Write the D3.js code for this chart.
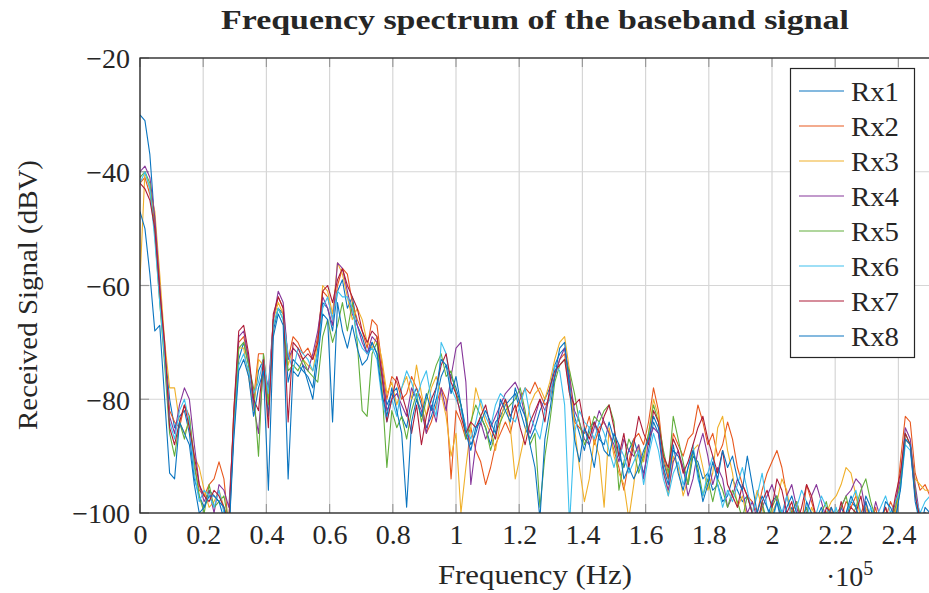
<!DOCTYPE html>
<html>
<head>
<meta charset="utf-8">
<script src="https://cdn.jsdelivr.net/npm/d3@7"></script>
<style>
  body { margin: 0; background: #fff; }
  text { font-family: "Liberation Serif", "Times New Roman", serif; fill: #262626; }
</style>
</head>
<body>
<div class="chart"></div>
<script>
// frequency bins (Hz)
var binWidth = 1562.5;

var seriesNames = ["Rx1", "Rx2", "Rx3", "Rx4", "Rx5", "Rx6", "Rx7", "Rx8"];
var seriesColors = ["#0a75c0", "#E8581E", "#F0B02A", "#86369A", "#62AE3C", "#3EC0EE", "#AE1C38", "#0a75c0"];

var xTicks = [0, 20000, 40000, 60000, 80000, 100000, 120000, 140000, 160000, 180000, 200000, 220000, 240000];
var yTicks = [-100, -80, -60, -40, -20];

// received level in dBV, one value per bin
var rx1 = [-30,-31,-37,-49,-62,-71,-80,-85,-83,-82,
  -86,-94,-97,-99,-96,-97,-98,-101,-104,-85,
  -73,-70,-74,-81,-75,-73,-83,-68,-64,-65,
  -77,-73,-74,-75,-76,-78,-71,-63,-64,-68,
  -61,-59,-64,-62,-67,-69,-72,-70,-72,-76,
  -81,-79,-78,-83,-85,-80,-78,-81,-85,-83,
  -80,-76,-74,-76,-78,-81,-85,-88,-86,-83,
  -85,-88,-84,-83,-81,-80,-79,-82,-85,-87,
  -85,-82,-80,-78,-74,-72,-71,-77,-83,-86,
  -89,-85,-84,-87,-88,-84,-87,-90,-92,-89,
  -87,-90,-93,-89,-84,-86,-91,-94,-89,-90,
  -92,-95,-90,-91,-94,-93,-96,-95,-98,-97,
  -94,-96,-98,-97,-100,-102,-99,-101,-98,-97,
  -100,-102,-99,-101,-103,-100,-102,-104,-101,-100,
  -102,-103,-99,-101,-98,-99,-102,-97,-99,-103,
  -101,-104,-100,-102,-95,-87,-88,-96,-103,-99,-100];

var rx2 = [-42,-41,-44,-49,-60,-73,-82,-84,-85,-81,
  -83,-92,-96,-97,-95,-94,-91,-94,-103,-82,
  -70,-69,-73,-80,-72,-72,-80,-66,-62,-64,
  -73,-69,-70,-72,-71,-73,-69,-61,-62,-66,
  -60,-57,-58,-63,-66,-68,-71,-66,-67,-74,
  -80,-76,-77,-80,-79,-76,-78,-80,-86,-84,
  -81,-78,-80,-94,-82,-84,-87,-85,-89,-91,
  -95,-92,-88,-86,-84,-86,-82,-80,-78,-79,
  -77,-79,-81,-80,-76,-73,-72,-79,-84,-85,
  -86,-83,-88,-85,-84,-86,-89,-92,-96,-91,
  -87,-86,-88,-84,-78,-82,-90,-94,-86,-88,
  -90,-87,-86,-81,-84,-88,-86,-90,-88,-84,
  -87,-92,-95,-97,-98,-100,-96,-93,-91,-89,
  -92,-97,-100,-98,-102,-95,-98,-101,-104,-100,
  -99,-103,-101,-98,-99,-97,-100,-98,-102,-99,
  -104,-101,-98,-100,-91,-83,-84,-93,-96,-95,-97];

var rx3 = [-59,-40,-43,-47,-58,-70,-78,-78,-84,-86,
  -84,-90,-92,-96,-99,-98,-96,-99,-101,-83,
  -71,-71,-76,-82,-73,-74,-80,-66,-63,-65,
  -74,-71,-72,-73,-74,-75,-70,-60,-61,-65,
  -56,-58,-62,-66,-64,-66,-70,-71,-69,-73,
  -79,-77,-81,-78,-76,-80,-74,-79,-83,-78,
  -76,-79,-83,-90,-86,-100,-92,-85,-78,-81,
  -84,-86,-89,-84,-80,-85,-94,-90,-86,-81,
  -79,-78,-80,-77,-73,-70,-69,-75,-85,-92,
  -98,-94,-87,-90,-99,-85,-90,-93,-95,-101,
  -95,-88,-91,-86,-80,-83,-92,-97,-90,-92,
  -97,-94,-89,-88,-92,-96,-93,-85,-83,-89,
  -93,-99,-97,-101,-100,-96,-99,-103,-100,-98,
  -94,-96,-101,-102,-100,-104,-99,-101,-102,-100,
  -98,-97,-95,-92,-93,-97,-101,-99,-102,-100,
  -102,-99,-103,-100,-95,-87,-88,-94,-95,-96,-96];

var rx4 = [-40,-39,-41,-48,-60,-72,-83,-86,-81,-78,
  -80,-88,-95,-98,-96,-100,-95,-96,-99,-84,
  -69,-68,-73,-81,-86,-74,-78,-66,-61,-63,
  -73,-71,-72,-74,-75,-72,-68,-62,-64,-67,
  -56,-57,-61,-65,-67,-70,-72,-69,-70,-75,
  -82,-80,-79,-81,-83,-78,-80,-82,-86,-81,
  -84,-78,-82,-76,-71,-70,-77,-95,-88,-84,
  -87,-85,-83,-81,-79,-78,-77,-79,-83,-86,
  -83,-80,-82,-79,-76,-73,-71,-76,-82,-84,
  -87,-88,-85,-82,-84,-86,-88,-91,-87,-89,
  -90,-88,-94,-87,-85,-86,-93,-96,-91,-89,
  -92,-97,-94,-89,-86,-90,-95,-92,-94,-99,
  -97,-94,-96,-100,-98,-101,-99,-97,-95,-98,
  -101,-97,-95,-99,-102,-100,-97,-95,-98,-101,
  -100,-103,-99,-97,-96,-94,-95,-100,-102,-98,
  -101,-99,-102,-98,-94,-85,-87,-95,-101,-100,-102];

var rx5 = [-41,-40,-42,-51,-63,-74,-86,-90,-84,-87,
  -83,-91,-97,-100,-95,-99,-98,-97,-102,-85,
  -71,-70,-74,-78,-90,-72,-81,-67,-64,-66,
  -75,-74,-75,-73,-75,-76,-77,-69,-66,-70,
  -67,-63,-68,-63,-70,-82,-83,-72,-70,-78,
  -92,-82,-85,-83,-87,-82,-79,-84,-80,-77,
  -74,-72,-76,-75,-79,-81,-87,-84,-81,-83,
  -85,-89,-86,-84,-82,-81,-80,-78,-82,-88,
  -86,-99,-90,-84,-77,-74,-73,-75,-79,-84,
  -88,-86,-83,-84,-82,-81,-84,-96,-91,-87,
  -89,-93,-90,-86,-81,-84,-89,-93,-83,-87,
  -91,-95,-89,-92,-97,-94,-98,-94,-96,-99,
  -96,-98,-101,-97,-100,-103,-98,-102,-99,-97,
  -101,-104,-100,-98,-101,-99,-103,-101,-100,-98,
  -102,-100,-99,-97,-101,-99,-96,-94,-98,-101,
  -103,-100,-101,-99,-95,-86,-88,-96,-103,-101,-102];

var rx6 = [-42,-40,-43,-52,-63,-73,-84,-87,-82,-80,
  -84,-93,-98,-96,-97,-99,-96,-100,-101,-86,
  -74,-72,-75,-79,-77,-73,-79,-67,-64,-66,
  -72,-75,-71,-72,-73,-75,-72,-64,-62,-66,
  -61,-62,-62,-64,-69,-71,-72,-71,-73,-80,
  -84,-80,-83,-78,-75,-77,-80,-77,-75,-80,
  -83,-70,-72,-78,-80,-82,-85,-87,-84,-80,
  -83,-85,-81,-79,-80,-83,-84,-81,-78,-83,
  -85,-87,-82,-80,-74,-75,-81,-102,-86,-82,
  -84,-85,-87,-84,-86,-89,-92,-88,-90,-93,
  -91,-89,-95,-90,-86,-89,-94,-97,-93,-91,
  -95,-92,-88,-94,-97,-93,-90,-95,-99,-96,
  -98,-95,-92,-96,-100,-97,-93,-99,-102,-98,
  -100,-97,-101,-99,-96,-98,-102,-100,-97,-99,
  -101,-99,-103,-100,-98,-96,-100,-102,-99,-101,
  -99,-97,-100,-98,-96,-88,-89,-97,-100,-98,-97];

var rx7 = [-42,-43,-45,-50,-61,-70,-85,-88,-84,-81,
  -85,-90,-95,-97,-98,-96,-97,-99,-102,-82,
  -68,-67,-72,-80,-82,-73,-85,-65,-62,-64,
  -84,-70,-71,-73,-72,-73,-70,-61,-60,-63,
  -59,-57,-60,-62,-64,-68,-70,-68,-69,-76,
  -84,-80,-76,-79,-82,-86,-81,-88,-83,-80,
  -78,-74,-72,-77,-79,-83,-86,-84,-85,-83,
  -81,-85,-87,-82,-80,-83,-81,-85,-88,-84,
  -82,-80,-84,-78,-75,-74,-73,-79,-81,-80,
  -85,-87,-84,-86,-83,-81,-85,-90,-86,-92,
  -88,-83,-86,-88,-82,-84,-90,-92,-87,-89,
  -93,-91,-88,-85,-83,-87,-90,-93,-89,-95,
  -97,-99,-95,-97,-100,-102,-98,-96,-99,-94,
  -96,-100,-98,-102,-99,-95,-97,-101,-103,-99,
  -100,-102,-98,-101,-99,-100,-97,-102,-100,-103,
  -101,-99,-102,-97,-93,-86,-88,-97,-101,-100,-103];

var rx8 = [-47,-50,-58,-68,-67,-80,-93,-94,-84,-86,
  -88,-95,-100,-99,-97,-97,-98,-99,-104,-87,
  -75,-73,-76,-83,-78,-75,-96,-69,-65,-67,
  -94,-75,-76,-74,-77,-80,-73,-65,-66,-84,
  -63,-68,-71,-67,-71,-74,-73,-70,-72,-79,
  -83,-78,-82,-86,-99,-84,-80,-83,-79,-82,
  -78,-73,-74,-79,-76,-81,-86,-89,-85,-84,
  -82,-84,-86,-80,-82,-84,-78,-81,-83,-88,
  -92,-101,-87,-82,-76,-71,-70,-78,-87,-91,
  -85,-88,-92,-86,-89,-90,-86,-88,-94,-92,
  -94,-92,-89,-87,-83,-85,-92,-95,-88,-93,
  -96,-92,-89,-93,-98,-95,-91,-94,-89,-92,
  -90,-94,-96,-90,-95,-100,-97,-99,-101,-98,
  -102,-99,-97,-100,-103,-98,-100,-101,-99,-102,
  -99,-101,-104,-100,-97,-99,-103,-98,-101,-100,
  -102,-98,-99,-101,-96,-87,-88,-98,-102,-100,-101];

var allSeries = [rx1, rx2, rx3, rx4, rx5, rx6, rx7, rx8];

var svgWidth = 929;
var svgHeight = 593;
var margin = { top: 58, right: -1, bottom: 80, left: 140 };
var width = svgWidth - margin.left - margin.right;
var height = svgHeight - margin.top - margin.bottom;

var svg = d3.select(".chart")
    .append("svg")
    .attr("width", svgWidth).attr("height", svgHeight);

var chartGroup = svg.append("g")
    .attr("transform", `translate(${margin.left}, ${margin.top})`);

var xScale = d3.scaleLinear().domain([0, 250000]).range([0, width]);
var yScale = d3.scaleLinear().domain([-100, -20]).range([height, 0]);

// grid
chartGroup.append("g").selectAll("line")
    .data(xTicks).enter().append("line")
    .attr("x1", d => xScale(d)).attr("x2", d => xScale(d))
    .attr("y1", 0).attr("y2", height)
    .attr("stroke", "#d6d6d6").attr("stroke-width", 1.2);
chartGroup.append("g").selectAll("line")
    .data(yTicks).enter().append("line")
    .attr("x1", 0).attr("x2", width)
    .attr("y1", d => yScale(d)).attr("y2", d => yScale(d))
    .attr("stroke", "#d6d6d6").attr("stroke-width", 1.2);

// inward tick marks
chartGroup.append("g").selectAll("line")
    .data(xTicks).enter().append("line")
    .attr("x1", d => xScale(d)).attr("x2", d => xScale(d))
    .attr("y1", height).attr("y2", height - 9)
    .attr("stroke", "#9a9a9a").attr("stroke-width", 1.2);
chartGroup.append("g").selectAll("line")
    .data(xTicks).enter().append("line")
    .attr("x1", d => xScale(d)).attr("x2", d => xScale(d))
    .attr("y1", 0).attr("y2", 9)
    .attr("stroke", "#9a9a9a").attr("stroke-width", 1.2);
chartGroup.append("g").selectAll("line")
    .data(yTicks).enter().append("line")
    .attr("x1", 0).attr("x2", 9)
    .attr("y1", d => yScale(d)).attr("y2", d => yScale(d))
    .attr("stroke", "#9a9a9a").attr("stroke-width", 1.2);

// series lines
svg.append("defs").append("clipPath").attr("id", "plotClip")
    .append("rect").attr("x", 0).attr("y", 0).attr("width", width).attr("height", height);

var line = d3.line()
    .x((d, i) => xScale(i * binWidth))
    .y(d => yScale(d));

chartGroup.append("g")
    .attr("clip-path", "url(#plotClip)")
    .selectAll("path")
    .data(allSeries).enter().append("path")
    .attr("d", d => line(d))
    .attr("fill", "none")
    .attr("stroke", (d, i) => seriesColors[i])
    .attr("stroke-width", 1.1)
    .attr("stroke-linejoin", "round");

// frame
chartGroup.append("rect")
    .attr("x", 0).attr("y", 0).attr("width", width).attr("height", height)
    .attr("fill", "none").attr("stroke", "#262626").attr("stroke-width", 1.3);

// axes labels (d3 axes, domain and ticks hidden, only labels kept)
var bottomAxis = d3.axisBottom(xScale)
    .tickValues(xTicks)
    .tickSize(0).tickPadding(9)
    .tickFormat(d => d3.format("")(Math.round(d / 1e4) / 10));
var leftAxis = d3.axisLeft(yScale)
    .tickValues(yTicks)
    .tickSize(0).tickPadding(10)
    .tickFormat(d3.format(""));

var xAxisG = chartGroup.append("g")
    .attr("transform", `translate(0, ${height})`)
    .call(bottomAxis);
var yAxisG = chartGroup.append("g").call(leftAxis);

[xAxisG, yAxisG].forEach(function(g) {
    g.select(".domain").remove();
    g.selectAll("text")
        .style("font-family", '"Liberation Serif", serif')
        .style("font-size", "28px")
        .attr("fill", "#262626");
});
yAxisG.selectAll("text").attr("dy", "0.35em");
xAxisG.selectAll("text").attr("dy", "0.78em");

// title
svg.append("text")
    .attr("x", 535).attr("y", 29)
    .attr("text-anchor", "middle")
    .attr("textLength", 628).attr("lengthAdjust", "spacingAndGlyphs")
    .style("font-size", "27px")
    .style("font-weight", "bold")
    .text("Frequency spectrum of the baseband signal");

// axis titles
svg.append("text")
    .attr("x", 535).attr("y", 584)
    .attr("text-anchor", "middle")
    .attr("textLength", 194).attr("lengthAdjust", "spacingAndGlyphs")
    .style("font-size", "28px")
    .text("Frequency (Hz)");

svg.append("text")
    .attr("transform", "translate(37, 295) rotate(-90)")
    .attr("text-anchor", "middle")
    .attr("textLength", 270).attr("lengthAdjust", "spacingAndGlyphs")
    .style("font-size", "28px")
    .text("Received Signal (dBV)");

var expText = svg.append("text")
    .attr("x", 826).attr("y", 586)
    .style("font-size", "28px");
expText.append("tspan").text("·10");
expText.append("tspan").attr("dy", -11).style("font-size", "20px").text("5");

// legend
var legend = svg.append("g");
legend.append("rect")
    .attr("x", 790.5).attr("y", 68.5).attr("width", 124).attr("height", 289)
    .attr("fill", "#fff").attr("stroke", "#262626").attr("stroke-width", 1.2);

var legendItems = legend.selectAll("g.item")
    .data(seriesNames).enter().append("g")
    .attr("class", "item")
    .attr("transform", (d, i) => `translate(0, ${91 + i * 35})`);

legendItems.append("line")
    .attr("x1", 799).attr("x2", 844)
    .attr("y1", 0).attr("y2", 0)
    .attr("stroke", (d, i) => seriesColors[i])
    .attr("stroke-width", 1.1);

legendItems.append("text")
    .attr("x", 851).attr("y", 0).attr("dy", "0.35em")
    .attr("textLength", 48).attr("lengthAdjust", "spacingAndGlyphs")
    .style("font-size", "28px")
    .text(d => d);
</script>
</body>
</html>
